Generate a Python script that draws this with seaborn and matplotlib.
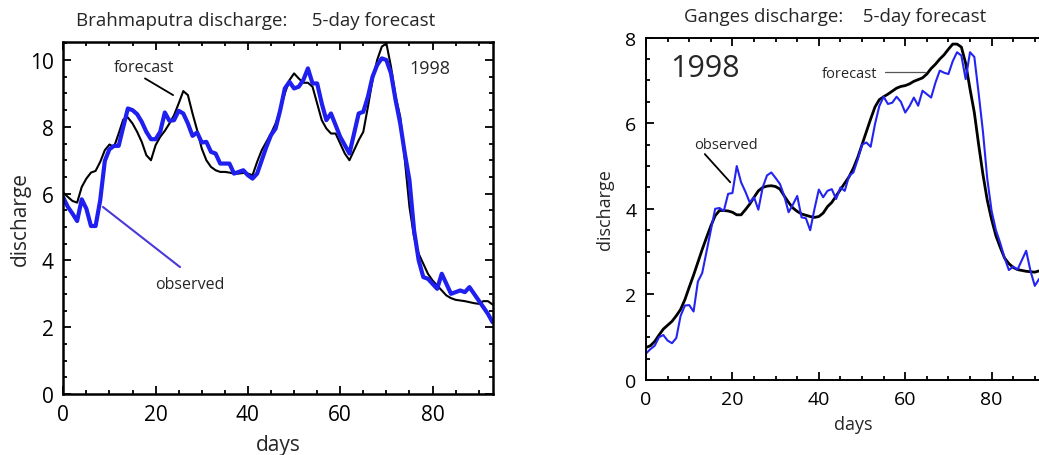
import seaborn as sns
import matplotlib.pyplot as plt
from matplotlib.ticker import MultipleLocator
import numpy as np

sns.set_style("ticks")
plt.rcParams['font.family'] = ['Open Sans', 'DejaVu Sans']

# Brahmaputra, 1998 (days 0..93)
brahma_obs = [5.88, 5.6, 5.4, 5.18, 5.83, 5.55, 5.03, 5.03, 5.8, 6.98,
              7.33, 7.43, 7.43, 8.0, 8.55, 8.5, 8.38, 8.15, 7.85, 7.63,
              7.63, 7.85, 8.43, 8.18, 8.2, 8.48, 8.4, 8.1, 7.73, 7.83,
              7.53, 7.55, 7.25, 7.2, 6.9, 6.9, 6.9, 6.6, 6.65, 6.7,
              6.55, 6.45, 6.6, 7.0, 7.4, 7.75, 7.95, 8.5, 9.15, 9.35,
              9.15, 9.2, 9.4, 9.75, 9.3, 9.3, 8.7, 8.2, 8.4, 8.05,
              7.7, 7.45, 7.2, 7.8, 8.4, 8.45, 8.9, 9.5, 9.85, 10.05,
              10.0, 9.6, 8.8, 8.1, 7.2, 6.4, 4.9, 4.0, 3.5, 3.45,
              3.3, 3.15, 3.6, 3.3, 3.0, 3.05, 3.1, 3.05, 3.2, 3.0,
              2.8, 2.6, 2.4, 2.15]
brahma_fc = [6.03, 5.9, 5.78, 5.73, 6.2, 6.45, 6.63, 6.68, 6.95, 7.3,
             7.47, 7.4, 7.8, 8.22, 8.28, 8.1, 7.85, 7.55, 7.15, 7.0,
             7.45, 7.7, 7.88, 8.1, 8.35, 8.7, 9.07, 8.95, 8.4, 7.9,
             7.35, 7.0, 6.8, 6.7, 6.65, 6.65, 6.63, 6.6, 6.6, 6.62,
             6.6, 6.55, 6.95, 7.3, 7.55, 7.8, 8.1, 8.5, 9.0, 9.4,
             9.6, 9.45, 9.32, 9.32, 9.2, 8.7, 8.2, 7.95, 7.8, 7.8,
             7.5, 7.2, 7.0, 7.3, 7.6, 7.85, 8.6, 9.4, 10.0, 10.4,
             10.5, 9.8, 8.9, 8.3, 7.0, 5.6, 4.7, 4.2, 3.9, 3.6,
             3.4, 3.25, 3.1, 2.95, 2.87, 2.82, 2.8, 2.78, 2.75, 2.72,
             2.7, 2.78, 2.78, 2.68]

# Ganges, 1998 (days 0..92)
ganges_obs = [0.62, 0.72, 0.8, 1.0, 1.05, 0.92, 0.86, 0.98, 1.5, 1.74,
              1.75, 1.6, 2.3, 2.5, 3.0, 3.5, 4.0, 4.02, 3.95, 4.35,
              4.37, 5.0, 4.62, 4.4, 4.15, 4.27, 3.98, 4.5, 4.78, 4.85,
              4.72, 4.58, 4.3, 3.92, 4.1, 4.3, 3.8, 3.78, 3.5, 4.0,
              4.45, 4.27, 4.42, 4.46, 4.23, 4.5, 4.42, 4.77, 4.85, 5.15,
              5.5, 5.55, 5.45, 5.98, 6.4, 6.62, 6.45, 6.48, 6.62, 6.5,
              6.25, 6.4, 6.6, 6.41, 6.76, 6.68, 6.6, 6.95, 7.23, 7.18,
              7.15, 7.45, 7.66, 7.58, 7.03, 7.66, 7.55, 6.7, 5.8, 4.7,
              3.95, 3.5, 3.2, 2.85, 2.57, 2.65, 2.58, 2.8, 3.02, 2.55,
              2.2, 2.36, 2.45]
ganges_fc = [0.76, 0.8, 0.9, 1.05, 1.19, 1.28, 1.37, 1.5, 1.65, 1.88,
             2.17, 2.45, 2.75, 3.05, 3.33, 3.6, 3.84, 3.96, 3.96, 3.95,
             3.92, 3.86, 3.86, 3.98, 4.11, 4.27, 4.42, 4.5, 4.53, 4.54,
             4.52, 4.46, 4.3, 4.15, 4.02, 3.94, 3.88, 3.85, 3.82, 3.8,
             3.82, 3.9, 4.05, 4.15, 4.3, 4.45, 4.6, 4.75, 4.95, 5.2,
             5.5, 5.8, 6.1, 6.38, 6.55, 6.62, 6.68, 6.75, 6.82, 6.86,
             6.88, 6.92, 6.98, 7.02, 7.06, 7.15, 7.28, 7.38, 7.5, 7.6,
             7.73, 7.85, 7.85, 7.78, 7.4, 6.8, 6.25, 5.5, 4.8, 4.2,
             3.75, 3.37, 3.1, 2.85, 2.72, 2.63, 2.58, 2.56, 2.54, 2.53,
             2.52, 2.55, 2.6]

days_b = np.arange(len(brahma_obs))
days_g = np.arange(len(ganges_obs))

fig = plt.figure(figsize=(10.39, 4.56), dpi=100)
ax1 = fig.add_axes([0.0609, 0.1338, 0.4136, 0.7726])
# right panel runs past the right edge of the picture, as in the original
ax2 = fig.add_axes([0.6218, 0.1645, 0.3991, 0.7507])

# left panel
sns.lineplot(x=days_b, y=brahma_fc, color="black", lw=1.5, ax=ax1)
sns.lineplot(x=days_b, y=brahma_obs, color="#1f1ff0", lw=3.0, ax=ax1)
ax1.set_xlim(0, 93.1)
ax1.set_ylim(0, 10.55)

# right panel
sns.lineplot(x=days_g, y=ganges_fc, color="black", lw=2.0, ax=ax2)
sns.lineplot(x=days_g, y=ganges_obs, color="#2424f2", lw=1.5, ax=ax2)
ax2.set_xlim(0, 96)
ax2.set_ylim(0, 8)

for ax, fs in [(ax1, 15), (ax2, 14)]:
    ax.xaxis.set_major_locator(MultipleLocator(20))
    ax.xaxis.set_minor_locator(MultipleLocator(5))
    ax.yaxis.set_major_locator(MultipleLocator(2))
    ax.yaxis.set_minor_locator(MultipleLocator(0.5))
    ax.tick_params(which="both", direction="in", top=True, right=True,
                   width=1.3, colors="black", labelsize=fs, pad=7)
    ax.tick_params(which="major", length=5.5)
    ax.tick_params(which="minor", length=3)
    for s in ax.spines.values():
        s.set_linewidth(1.8)
        s.set_color("black")
for s in ax2.spines.values():
    s.set_linewidth(1.4)

ax1.set_xlabel("days", fontsize=15, labelpad=7)
ax1.set_ylabel("discharge", fontsize=15, labelpad=-1)
ax2.set_xlabel("days", fontsize=13, labelpad=5)
ax2.set_ylabel("discharge", fontsize=13, labelpad=8)

fig.text(256 / 1039, 1 - 21 / 456, "Brahmaputra discharge:     5-day forecast",
         ha="center", va="center", fontsize=13.5)
fig.text(835 / 1039, 1 - 17 / 456, "Ganges discharge:    5-day forecast",
         ha="center", va="center", fontsize=13.5)

# annotations, left
ax1.text(17.5, 9.8, "forecast", ha="center", va="center", fontsize=11.5)
ax1.plot([17.7, 23.8], [9.45, 8.95], color="black", lw=1.3)
ax1.text(27.5, 3.3, "observed", ha="center", va="center", fontsize=11.5)
ax1.plot([8.6, 25.3], [5.6, 3.8], color="#4a38d8", lw=1.5)
ax1.text(79.5, 9.75, "1998", ha="center", va="center", fontsize=13)

# annotations, right
ax2.text(13.6, 7.3, "1998", ha="center", va="center", fontsize=22)
ax2.text(47.2, 7.17, "forecast", ha="center", va="center", fontsize=10.5)
ax2.plot([55.3, 64.5], [7.2, 7.2], color="#555555", lw=0.9)
ax2.text(18.6, 5.51, "observed", ha="center", va="center", fontsize=10.5)
ax2.plot([13.6, 19.5], [5.28, 4.62], color="black", lw=1.3)

fig.savefig("out.png", dpi=100)
plt.close(fig)
